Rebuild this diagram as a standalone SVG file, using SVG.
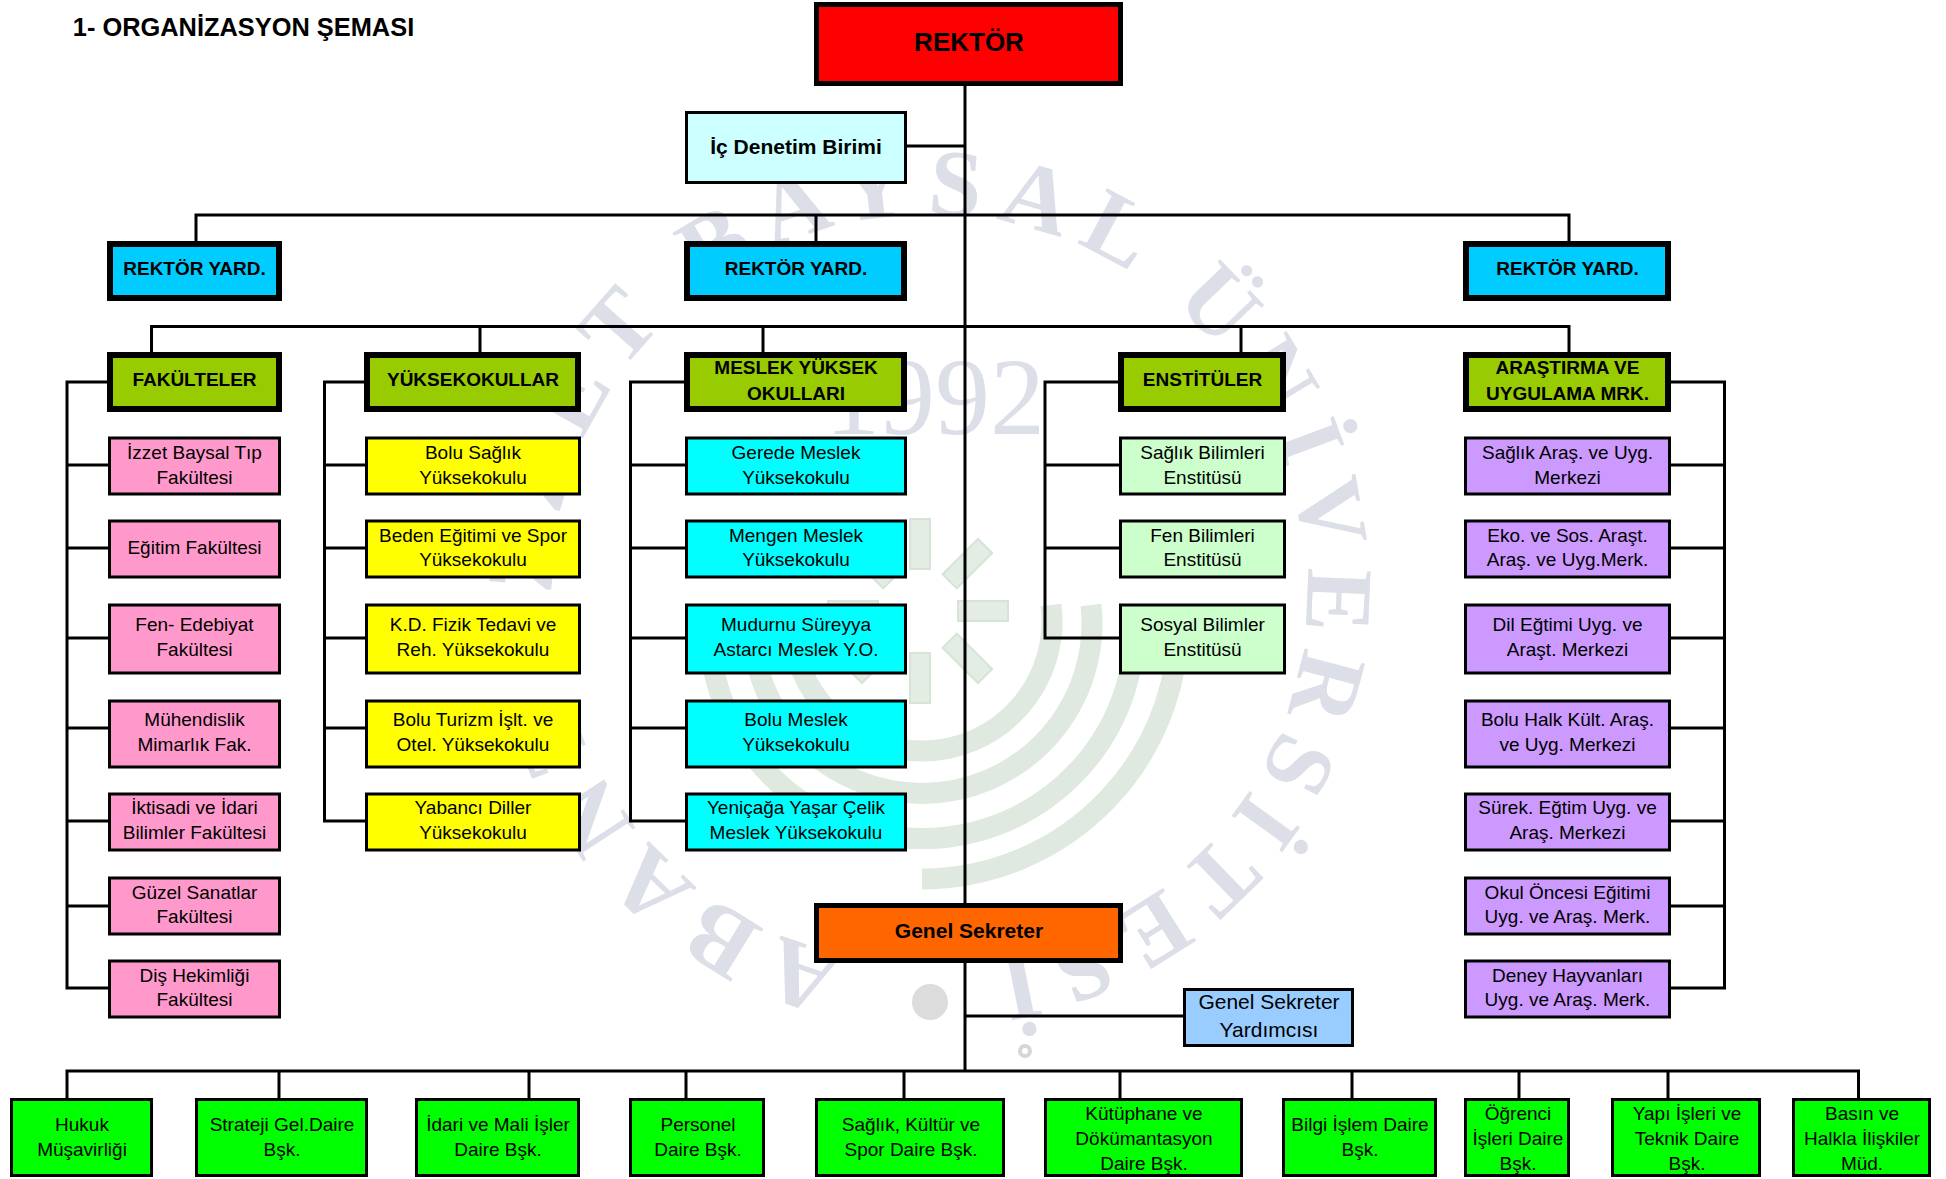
<svg xmlns="http://www.w3.org/2000/svg" width="1946" height="1179" viewBox="0 0 1946 1179">
<style>
text{font-family:"Liberation Sans",Arial,sans-serif;fill:#000;text-anchor:middle;font-size:19px}
.b{font-weight:bold}
.t{stroke:#000;stroke-width:3}
.k{stroke:#000;stroke-width:6}
.m{stroke:#000;stroke-width:5}
.c{fill:none;stroke:#000;stroke-width:3}
.wm{font-family:"Liberation Serif","Times New Roman",serif;fill:#dcdfe8;font-weight:bold}
.band{fill:none;stroke:#dfe9df;stroke-width:21}
.spoke{fill:#e4ede4;stroke:#d6e3d6;stroke-width:2}
</style>
<defs>
<path id="sealPath" d="M864.900 959.300A375 375 0 1 1 995.100 220.700A375 375 0 1 1 864.900 959.300"/>
</defs>
<rect width="1946" height="1179" fill="#fff"/>
<g id="watermark">
<text class="wm" style="font-size:95px;text-anchor:start;letter-spacing:15.600px"><textPath href="#sealPath" startOffset="20">ABANT İZZET BAYSAL ÜNİVERSİTESİ</textPath></text>
<text class="wm" x="935" y="434" style="font-size:110px;font-weight:normal">1992</text>
<circle cx="930" cy="1002" r="18" fill="#dcdcdc"/>
<circle cx="1025" cy="1051" r="5" fill="none" stroke="#d6d6d6" stroke-width="4"/>
<path class="band" d="M793 605A130 130 0 1 0 1051 605"/>
<path class="band" d="M753 605A170 170 0 1 0 1091 605"/>
<path class="band" d="M710 605A213 213 0 1 0 1134 605"/>
<path class="band" d="M922 879A257 257 0 0 0 1178 605"/>
<g transform="translate(920 611)">
<rect class="spoke" x="-10" y="-92" width="20" height="50"/>
<rect class="spoke" x="-10" y="-92" width="20" height="50" transform="rotate(45)"/>
<rect class="spoke" x="-10" y="-88" width="20" height="50" transform="rotate(90)"/>
<rect class="spoke" x="-10" y="-92" width="20" height="50" transform="rotate(135)"/>
<rect class="spoke" x="-10" y="-92" width="20" height="50" transform="rotate(180)"/>
<rect class="spoke" x="-10" y="-92" width="20" height="50" transform="rotate(225)"/>
<rect class="spoke" x="-10" y="-92" width="20" height="50" transform="rotate(270)"/>
<rect class="spoke" x="-10" y="-92" width="20" height="50" transform="rotate(315)"/>
</g>
</g>
<g id="connectors">
<path class="c" d="M965 84V1072M906 146H965"/>
<path class="c" d="M196 241V215H1569V241M816 215V241"/>
<path class="c" d="M151.500 352V326.500H1569V352M480 326.500V352M763 326.500V352M1241 326.500V352"/>
<path class="c" d="M108 382H67V988H108M67 465H108M67 548H108M67 638H108M67 728H108M67 821H108M67 906H108"/>
<path class="c" d="M365 382H324.500V821H365M324.500 465H365M324.500 548H365M324.500 638H365M324.500 728H365"/>
<path class="c" d="M685 382H630.500V821H685M630.500 465H685M630.500 548H685M630.500 638H685M630.500 728H685"/>
<path class="c" d="M1119 382H1045V638H1119M1045 465H1119M1045 548H1119"/>
<path class="c" d="M1670 382H1724.500V988H1670M1724.500 465H1670M1724.500 548H1670M1724.500 638H1670M1724.500 728H1670M1724.500 821H1670M1724.500 906H1670"/>
<path class="c" d="M965 1016H1183"/>
<path class="c" d="M67 1098V1071H1858.500V1098M279 1071V1098M529 1071V1098M686 1071V1098M904 1071V1098M1120 1071V1098M1352 1071V1098M1519 1071V1098M1668 1071V1098"/>
</g>
<text id="title" class="b" x="243.500" y="36" style="font-size:25.400px">1- ORGANİZASYON ŞEMASI</text>
<g id="rektor"><rect class="m" x="816.500" y="4.500" width="304" height="79" fill="#f00"/><text class="b" x="969" y="51" style="font-size:26px">REKTÖR</text></g>
<g id="ic-denetim"><rect class="t" x="686.500" y="112.500" width="219" height="70" fill="#cff"/><text class="b" x="796" y="154" style="font-size:21px">İç Denetim Birimi</text></g>
<g id="yard-1"><rect class="k" x="110" y="244" width="169" height="54" fill="#0cf"/><text class="b" x="194.500" y="275">REKTÖR YARD.</text></g>
<g id="yard-2"><rect class="k" x="687" y="244" width="217" height="54" fill="#0cf"/><text class="b" x="796" y="275">REKTÖR YARD.</text></g>
<g id="yard-3"><rect class="k" x="1466" y="244" width="202" height="54" fill="#0cf"/><text class="b" x="1567.500" y="275">REKTÖR YARD.</text></g>
<g id="h-fak"><rect class="k" x="110" y="355" width="169" height="54" fill="#9c0"/><text class="b" x="194.500" y="386">FAKÜLTELER</text></g>
<g id="h-yuk"><rect class="k" x="367" y="355" width="211" height="54" fill="#9c0"/><text class="b" x="473" y="386">YÜKSEKOKULLAR</text></g>
<g id="h-mes"><rect class="k" x="687" y="355" width="217" height="54" fill="#9c0"/><text class="b" x="796" y="374">MESLEK YÜKSEK</text><text class="b" x="796" y="400">OKULLARI</text></g>
<g id="h-ens"><rect class="k" x="1121" y="355" width="162" height="54" fill="#9c0"/><text class="b" x="1202.500" y="386">ENSTİTÜLER</text></g>
<g id="h-ara"><rect class="k" x="1466" y="355" width="202" height="54" fill="#9c0"/><text class="b" x="1567.500" y="374">ARAŞTIRMA VE</text><text class="b" x="1567.500" y="400">UYGULAMA MRK.</text></g>

<g id="f1"><rect class="t" x="109.500" y="438" width="170" height="56" fill="#f9c"/><text x="194.500" y="459">İzzet Baysal Tıp</text><text x="194.500" y="484">Fakültesi</text></g>
<g id="f2"><rect class="t" x="109.500" y="521" width="170" height="56" fill="#f9c"/><text x="194.500" y="554">Eğitim Fakültesi</text></g>
<g id="f3"><rect class="t" x="109.500" y="605" width="170" height="68" fill="#f9c"/><text x="194.500" y="631">Fen- Edebiyat</text><text x="194.500" y="656">Fakültesi</text></g>
<g id="f4"><rect class="t" x="109.500" y="701" width="170" height="66" fill="#f9c"/><text x="194.500" y="726">Mühendislik</text><text x="194.500" y="751">Mimarlık Fak.</text></g>
<g id="f5"><rect class="t" x="109.500" y="794" width="170" height="56" fill="#f9c"/><text x="194.500" y="814">İktisadi ve İdari</text><text x="194.500" y="839">Bilimler Fakültesi</text></g>
<g id="f6"><rect class="t" x="109.500" y="878" width="170" height="56" fill="#f9c"/><text x="194.500" y="898.500">Güzel Sanatlar</text><text x="194.500" y="923">Fakültesi</text></g>
<g id="f7"><rect class="t" x="109.500" y="961" width="170" height="56" fill="#f9c"/><text x="194.500" y="981.500">Diş Hekimliği</text><text x="194.500" y="1006">Fakültesi</text></g>

<g id="y1"><rect class="t" x="366.500" y="438" width="213" height="56" fill="#ff0"/><text x="473" y="459">Bolu Sağlık</text><text x="473" y="484">Yüksekokulu</text></g>
<g id="y2"><rect class="t" x="366.500" y="521" width="213" height="56" fill="#ff0"/><text x="473" y="541.500">Beden Eğitimi ve Spor</text><text x="473" y="566">Yüksekokulu</text></g>
<g id="y3"><rect class="t" x="366.500" y="605" width="213" height="68" fill="#ff0"/><text x="473" y="631">K.D. Fizik Tedavi ve</text><text x="473" y="656">Reh. Yüksekokulu</text></g>
<g id="y4"><rect class="t" x="366.500" y="701" width="213" height="66" fill="#ff0"/><text x="473" y="726">Bolu Turizm İşlt. ve</text><text x="473" y="751">Otel. Yüksekokulu</text></g>
<g id="y5"><rect class="t" x="366.500" y="794" width="213" height="56" fill="#ff0"/><text x="473" y="814">Yabancı Diller</text><text x="473" y="839">Yüksekokulu</text></g>

<g id="m1"><rect class="t" x="686.500" y="438" width="219" height="56" fill="#0ff"/><text x="796" y="459">Gerede Meslek</text><text x="796" y="484">Yüksekokulu</text></g>
<g id="m2"><rect class="t" x="686.500" y="521" width="219" height="56" fill="#0ff"/><text x="796" y="541.500">Mengen Meslek</text><text x="796" y="566">Yüksekokulu</text></g>
<g id="m3"><rect class="t" x="686.500" y="605" width="219" height="68" fill="#0ff"/><text x="796" y="631">Mudurnu Süreyya</text><text x="796" y="656">Astarcı Meslek Y.O.</text></g>
<g id="m4"><rect class="t" x="686.500" y="701" width="219" height="66" fill="#0ff"/><text x="796" y="726">Bolu Meslek</text><text x="796" y="751">Yüksekokulu</text></g>
<g id="m5"><rect class="t" x="686.500" y="794" width="219" height="56" fill="#0ff"/><text x="796" y="814">Yeniçağa Yaşar Çelik</text><text x="796" y="839">Meslek Yüksekokulu</text></g>

<g id="e1"><rect class="t" x="1120.500" y="438" width="164" height="56" fill="#cfc"/><text x="1202.500" y="459">Sağlık Bilimleri</text><text x="1202.500" y="484">Enstitüsü</text></g>
<g id="e2"><rect class="t" x="1120.500" y="521" width="164" height="56" fill="#cfc"/><text x="1202.500" y="541.500">Fen Bilimleri</text><text x="1202.500" y="566">Enstitüsü</text></g>
<g id="e3"><rect class="t" x="1120.500" y="605" width="164" height="68" fill="#cfc"/><text x="1202.500" y="631">Sosyal Bilimler</text><text x="1202.500" y="656">Enstitüsü</text></g>

<g id="a1"><rect class="t" x="1465.500" y="438" width="204" height="56" fill="#c9f"/><text x="1567.500" y="459">Sağlık Araş. ve Uyg.</text><text x="1567.500" y="484">Merkezi</text></g>
<g id="a2"><rect class="t" x="1465.500" y="521" width="204" height="56" fill="#c9f"/><text x="1567.500" y="541.500">Eko. ve Sos. Araşt.</text><text x="1567.500" y="566">Araş. ve Uyg.Merk.</text></g>
<g id="a3"><rect class="t" x="1465.500" y="605" width="204" height="68" fill="#c9f"/><text x="1567.500" y="631">Dil Eğtimi Uyg. ve</text><text x="1567.500" y="656">Araşt. Merkezi</text></g>
<g id="a4"><rect class="t" x="1465.500" y="701" width="204" height="66" fill="#c9f"/><text x="1567.500" y="726">Bolu Halk Kült. Araş.</text><text x="1567.500" y="751">ve Uyg. Merkezi</text></g>
<g id="a5"><rect class="t" x="1465.500" y="794" width="204" height="56" fill="#c9f"/><text x="1567.500" y="814">Sürek. Eğtim Uyg. ve</text><text x="1567.500" y="839">Araş. Merkezi</text></g>
<g id="a6"><rect class="t" x="1465.500" y="878" width="204" height="56" fill="#c9f"/><text x="1567.500" y="898.500">Okul Öncesi Eğitimi</text><text x="1567.500" y="923">Uyg. ve Araş. Merk.</text></g>
<g id="a7"><rect class="t" x="1465.500" y="961" width="204" height="56" fill="#c9f"/><text x="1567.500" y="981.500">Deney Hayvanları</text><text x="1567.500" y="1006">Uyg. ve Araş. Merk.</text></g>

<g id="genel-sekreter"><rect class="m" x="816.500" y="905.500" width="304" height="55" fill="#f60"/><text class="b" x="969" y="938" style="font-size:21px">Genel Sekreter</text></g>
<g id="gs-yard"><rect class="t" x="1184.500" y="989.500" width="168" height="56" fill="#9cf"/><text x="1269" y="1009" style="font-size:21px">Genel Sekreter</text><text x="1269" y="1037" style="font-size:21px">Yardımcısı</text></g>

<g id="d1"><rect class="t" x="11.500" y="1099.500" width="140" height="76" fill="#0f0"/><text x="82" y="1131">Hukuk</text><text x="82" y="1156">Müşavirliği</text></g>
<g id="d2"><rect class="t" x="196.500" y="1099.500" width="170" height="76" fill="#0f0"/><text x="282" y="1131">Strateji Gel.Daire</text><text x="282" y="1156">Bşk.</text></g>
<g id="d3"><rect class="t" x="416.500" y="1099.500" width="162" height="76" fill="#0f0"/><text x="498" y="1131">İdari ve Mali İşler</text><text x="498" y="1156">Daire Bşk.</text></g>
<g id="d4"><rect class="t" x="630.500" y="1099.500" width="133" height="76" fill="#0f0"/><text x="698" y="1131">Personel</text><text x="698" y="1156">Daire Bşk.</text></g>
<g id="d5"><rect class="t" x="816.500" y="1099.500" width="187" height="76" fill="#0f0"/><text x="911" y="1131">Sağlık, Kültür ve</text><text x="911" y="1156">Spor Daire Bşk.</text></g>
<g id="d6"><rect class="t" x="1045.500" y="1099.500" width="196" height="76" fill="#0f0"/><text x="1144" y="1120">Kütüphane ve</text><text x="1144" y="1145">Dökümantasyon</text><text x="1144" y="1170">Daire Bşk.</text></g>
<g id="d7"><rect class="t" x="1283.500" y="1099.500" width="152" height="76" fill="#0f0"/><text x="1360" y="1131">Bilgi İşlem Daire</text><text x="1360" y="1156">Bşk.</text></g>
<g id="d8"><rect class="t" x="1465.500" y="1099.500" width="103" height="76" fill="#0f0"/><text x="1518" y="1120">Öğrenci</text><text x="1518" y="1145">İşleri Daire</text><text x="1518" y="1170">Bşk.</text></g>
<g id="d9"><rect class="t" x="1612.500" y="1099.500" width="147" height="76" fill="#0f0"/><text x="1687" y="1120">Yapı İşleri ve</text><text x="1687" y="1145">Teknik Daire</text><text x="1687" y="1170">Bşk.</text></g>
<g id="d10"><rect class="t" x="1793.500" y="1099.500" width="136" height="76" fill="#0f0"/><text x="1862" y="1120">Basın ve</text><text x="1862" y="1145">Halkla İlişkiler</text><text x="1862" y="1170">Müd.</text></g>
</svg>
